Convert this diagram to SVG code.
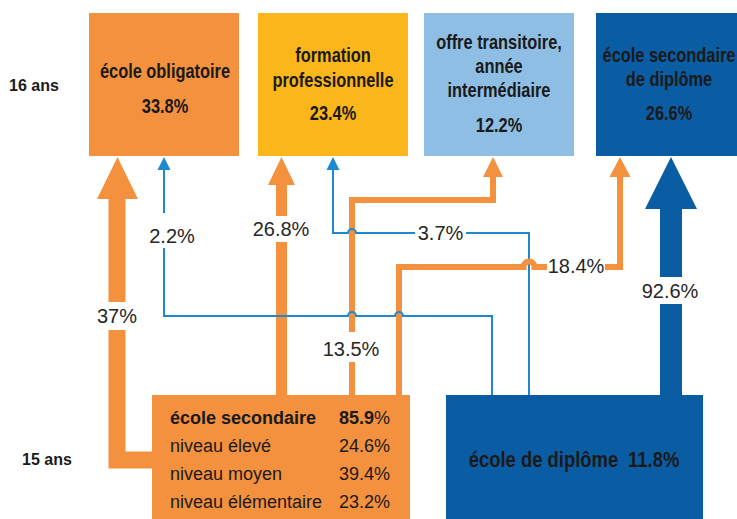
<svg xmlns="http://www.w3.org/2000/svg" width="737" height="519" viewBox="0 0 737 519">
<style>
.hd{font-family:"Liberation Sans",Arial,sans-serif;font-weight:bold;font-size:20px;fill:#1a1a1a;text-anchor:middle}
.age{font-family:"Liberation Sans",Arial,sans-serif;font-weight:bold;font-size:16px;fill:#1a1a1a}
.lbl{font-family:"Liberation Sans",Arial,sans-serif;font-size:20px;fill:#262626;text-anchor:middle}
.row{font-family:"Liberation Sans",Arial,sans-serif;font-size:18px;fill:#1a1a1a}
.pc{text-anchor:end}
.b{font-weight:bold}
.ob{fill:none;stroke:#F4913F;stroke-linejoin:miter}
.of{fill:#F4913F}
.bl{fill:none;stroke:#1E88D3;stroke-width:2}
.bf{fill:#1E88D3}
.bg{fill:#ffffff}
</style>
<rect width="737" height="519" fill="#ffffff"/>
<g id="age-16"><text class="age" x="9" y="91">16 ans</text></g>
<g id="age-15"><text class="age" x="22" y="465">15 ans</text></g>

<g id="ecole-obligatoire">
<rect x="89" y="13" width="150" height="143" fill="#F4913F"/>
<g transform="translate(165 0) scale(0.82 1)">
<text class="hd" x="0" y="78">école obligatoire</text>
<text class="hd" x="0" y="113">33.8%</text>
</g>
</g>
<g id="formation-professionnelle">
<rect x="258" y="13" width="150" height="143" fill="#FBB61C"/>
<g transform="translate(333 0) scale(0.82 1)">
<text class="hd" x="0" y="62">formation</text>
<text class="hd" x="0" y="87">professionnelle</text>
<text class="hd" x="0" y="120">23.4%</text>
</g>
</g>
<g id="offre-transitoire">
<rect x="424" y="13" width="150" height="143" fill="#8EBEE3"/>
<g transform="translate(499 0) scale(0.82 1)">
<text class="hd" x="0" y="49">offre transitoire,</text>
<text class="hd" x="0" y="73">année</text>
<text class="hd" x="0" y="97">intermédiaire</text>
<text class="hd" x="0" y="132">12.2%</text>
</g>
</g>
<g id="ecole-secondaire-diplome">
<rect x="596" y="13" width="150" height="143" fill="#0A5CA3"/>
<g transform="translate(669 0) scale(0.82 1)">
<text class="hd" x="0" y="62">école secondaire</text>
<text class="hd" x="0" y="86">de diplôme</text>
<text class="hd" x="0" y="120">26.6%</text>
</g>
</g>

<g id="connectors">
<polyline class="ob" stroke-width="17" points="153,460 117,460 117,198"/>
<polygon class="of" points="97,199 138,199 117.5,157"/>
<line class="ob" stroke-width="11" x1="281.5" y1="396" x2="281.5" y2="184"/>
<polygon class="of" points="268,185 295,185 281.5,157"/>
<polyline class="ob" stroke-width="6" points="352,396 352,200 493,200 493,176"/>
<polygon class="of" points="483,177 503,177 493,157"/>
<polyline class="ob" stroke-width="6" points="399,396 399,267 516,267"/>
<rect x="660" y="208" width="22" height="188" fill="#0A5CA3"/>
<polygon points="645,209 697,209 671,157" fill="#0A5CA3"/>
<path class="bl" d="M492,396 V316 H403 A4 4 0 0 0 395 316 H356 A4 4 0 0 0 348 316 H164 V168"/>
<polygon class="bf" points="157.5,170 170.5,170 164,157"/>
<path class="bl" d="M529,396 V233 H356 A4 4 0 0 0 348 233 H333 V168"/>
<polygon class="bf" points="326.5,170 339.5,170 333,157"/>
<path class="ob" stroke-width="6" d="M514,267 H523.5 A5.5 5.5 0 0 1 534.5 267 H620 V176"/>
<polygon class="of" points="609.5,177 630.5,177 620,157"/>
<rect class="bg" x="96" y="302" width="42" height="28"/>
<text class="lbl" x="117" y="323">37%</text>
<rect class="bg" x="147" y="213" width="51" height="35"/>
<text class="lbl" x="172" y="243">2.2%</text>
<rect class="bg" x="250" y="216" width="62" height="26"/>
<text class="lbl" x="281" y="236">26.8%</text>
<rect class="bg" x="322" y="332" width="60" height="30"/>
<text class="lbl" x="351" y="356">13.5%</text>
<rect class="bg" x="415" y="222" width="51" height="24"/>
<text class="lbl" x="440.5" y="240">3.7%</text>
<rect class="bg" x="547" y="256" width="58" height="22"/>
<text class="lbl" x="576" y="273">18.4%</text>
<rect class="bg" x="640" y="277" width="60" height="27"/>
<text class="lbl" x="670" y="298">92.6%</text>
</g>

<g id="ecole-secondaire">
<rect x="152" y="395" width="258" height="130" fill="#F4913F"/>
<text class="row b" x="170" y="424">école secondaire</text>
<text class="row pc" x="390" y="424"><tspan class="b">85.9</tspan>%</text>
<text class="row" x="170" y="452">niveau élevé</text>
<text class="row pc" x="390" y="452">24.6%</text>
<text class="row" x="170" y="480">niveau moyen</text>
<text class="row pc" x="390" y="480">39.4%</text>
<text class="row" x="170" y="508">niveau élémentaire</text>
<text class="row pc" x="390" y="508">23.2%</text>
</g>
<g id="ecole-diplome">
<rect x="446" y="395" width="257" height="130" fill="#0A5CA3"/>
<g transform="translate(574 0) scale(0.82 1)">
<text class="hd" style="font-size:22.5px" x="0" y="467">école de diplôme<tspan dx="12">11.8%</tspan></text>
</g>
</g>
</svg>
